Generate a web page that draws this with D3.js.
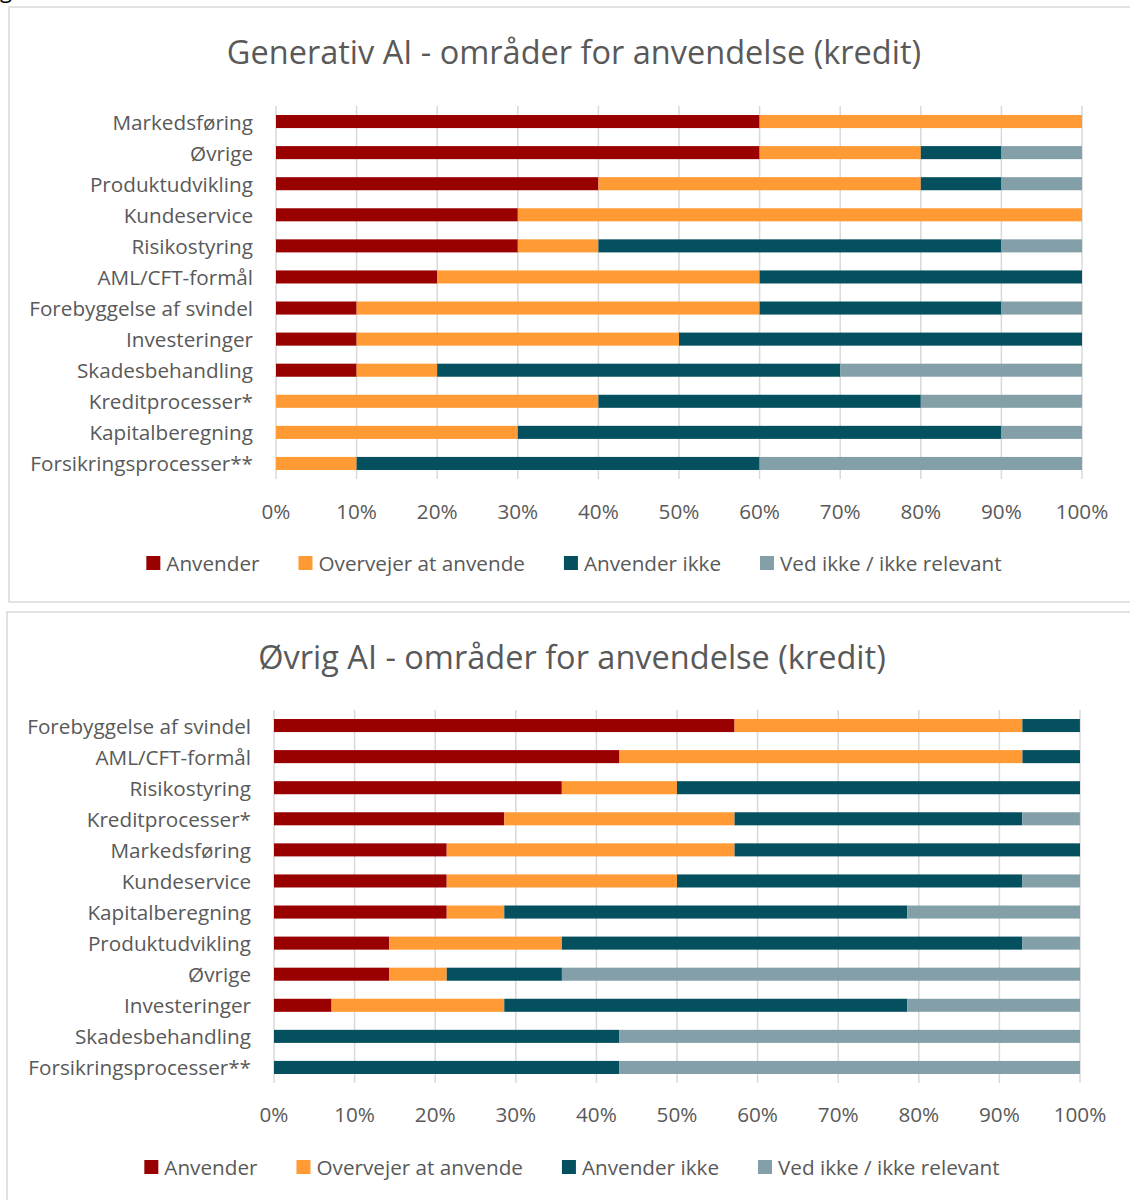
<!DOCTYPE html>
<html>
<head>
<meta charset="utf-8">
<script src="https://cdn.jsdelivr.net/npm/d3@7"></script>
<style>
  body { margin: 0; background: #fff; }
  text { font-family: "Open Sans", Lato, sans-serif; fill: #595959; }
</style>
</head>
<body>
<svg id="chart" width="1130" height="1200"></svg>
<script>
// serier og farver
const seriesNames = ["Anvender", "Overvejer at anvende", "Anvender ikke", "Ved ikke / ikke relevant"];
const seriesColors = ["#990000", "#FF9A35", "#04505E", "#83A0A9"];
const tickValues = [0, 10, 20, 30, 40, 50, 60, 70, 80, 90, 100];

// Generativ AI (procent)
const genCategories = ["Markedsføring", "Øvrige", "Produktudvikling", "Kundeservice", "Risikostyring",
  "AML/CFT-formål", "Forebyggelse af svindel", "Investeringer", "Skadesbehandling",
  "Kreditprocesser*", "Kapitalberegning", "Forsikringsprocesser**"];
const genAnvender    = [60, 60, 40, 30, 30, 20, 10, 10, 10, 0, 0, 0];
const genOvervejer   = [40, 20, 40, 70, 10, 40, 50, 40, 10, 40, 30, 10];
const genAnvenderIkke = [0, 10, 10, 0, 50, 40, 30, 50, 50, 40, 60, 50];
const genVedIkke     = [0, 10, 10, 0, 10, 0, 10, 0, 30, 20, 10, 40];

// Øvrig AI (procent)
const ovrCategories = ["Forebyggelse af svindel", "AML/CFT-formål", "Risikostyring", "Kreditprocesser*",
  "Markedsføring", "Kundeservice", "Kapitalberegning", "Produktudvikling", "Øvrige",
  "Investeringer", "Skadesbehandling", "Forsikringsprocesser**"];
const ovrAnvender    = [57.14, 42.86, 35.71, 28.57, 21.43, 21.43, 21.43, 14.29, 14.29, 7.14, 0, 0];
const ovrOvervejer   = [35.71, 50.00, 14.29, 28.57, 35.71, 28.57, 7.14, 21.43, 7.14, 21.43, 0, 0];
const ovrAnvenderIkke = [7.14, 7.14, 50.00, 35.71, 42.86, 42.86, 50.00, 57.14, 14.29, 50.00, 42.86, 42.86];
const ovrVedIkke     = [0, 0, 0, 7.14, 0, 7.14, 21.43, 7.14, 64.29, 21.43, 57.14, 57.14];

const svg = d3.select("#chart");

// rest af tekst fra siden ovenover
svg.append("text").attr("x", 0).attr("y", -2)
  .style("font-size", "22px").style("fill", "#000").text("g");

function drawChart(cfg) {
  const table = cfg.categories.map((c, i) => ({
    cat: c,
    [seriesNames[0]]: cfg.values[0][i],
    [seriesNames[1]]: cfg.values[1][i],
    [seriesNames[2]]: cfg.values[2][i],
    [seriesNames[3]]: cfg.values[3][i]
  }));
  const stacked = d3.stack().keys(seriesNames)(table);

  const x = d3.scaleLinear().domain([0, 100]).range([cfg.left, cfg.right]);
  const y = d3.scaleBand().domain(cfg.categories).range([cfg.top, cfg.bottom]).paddingInner(0.58).paddingOuter(0.29);

  const g = svg.append("g");

  // ramme
  g.append("rect")
    .attr("x", cfg.box[0]).attr("y", cfg.box[1])
    .attr("width", cfg.box[2]).attr("height", cfg.box[3])
    .attr("fill", "none").attr("stroke", "#D9D9D9").attr("stroke-width", 1.5);

  // titel
  g.append("text")
    .attr("x", cfg.center).attr("y", cfg.titleY)
    .attr("text-anchor", "middle").attr("dominant-baseline", "central")
    .style("font-size", "32.5px")
    .text(cfg.title);

  // gitterlinjer
  g.selectAll(".grid").data(tickValues).join("line")
    .attr("x1", d => x(d)).attr("x2", d => x(d))
    .attr("y1", cfg.top).attr("y2", cfg.bottom)
    .attr("stroke", "#D9D9D9").attr("stroke-width", 1.5);

  // søjler
  g.selectAll(".serie").data(stacked).join("g")
    .attr("fill", (d, i) => seriesColors[i])
    .selectAll("rect").data(d => d).join("rect")
    .attr("x", d => x(d[0]))
    .attr("width", d => x(d[1]) - x(d[0]))
    .attr("y", d => y(d.data.cat))
    .attr("height", y.bandwidth());

  // kategorier
  g.selectAll(".cat").data(cfg.categories).join("text")
    .attr("x", cfg.labelX).attr("y", d => y(d) + y.bandwidth() / 2)
    .attr("text-anchor", "end").attr("dominant-baseline", "central")
    .style("font-size", "20.7px")
    .text(d => d);

  // x-akse etiketter
  g.selectAll(".tick").data(tickValues).join("text")
    .attr("x", d => x(d)).attr("y", cfg.tickY)
    .attr("text-anchor", "middle").attr("dominant-baseline", "central")
    .style("font-size", "20.7px")
    .text(d => d + "%");

  // forklaring
  const leg = g.append("g");
  const items = leg.selectAll("g").data(seriesNames).join("g");
  items.append("rect")
    .attr("width", 14).attr("height", 14).attr("y", cfg.legendY - 7)
    .attr("fill", (d, i) => seriesColors[i]);
  items.append("text")
    .attr("x", 20).attr("y", cfg.legendY)
    .attr("dominant-baseline", "central")
    .style("font-size", "20.7px")
    .text(d => d);
  let pos = 0;
  const widths = [];
  items.each(function () { widths.push(d3.select(this).select("text").node().getComputedTextLength() + 20); });
  const total = d3.sum(widths) + 39 * (widths.length - 1);
  let start = cfg.center - total / 2;
  items.attr("transform", (d, i) => {
    const t = `translate(${start + pos},0)`;
    pos += widths[i] + 39;
    return t;
  });
}

drawChart({
  title: "Generativ AI - områder for anvendelse (kredit)",
  categories: genCategories,
  values: [genAnvender, genOvervejer, genAnvenderIkke, genVedIkke],
  box: [9, 7, 1135, 595],
  center: 574, titleY: 51,
  left: 276, right: 1082, top: 106, bottom: 479,
  labelX: 253, tickY: 511, legendY: 563
});

drawChart({
  title: "Øvrig AI - områder for anvendelse (kredit)",
  categories: ovrCategories,
  values: [ovrAnvender, ovrOvervejer, ovrAnvenderIkke, ovrVedIkke],
  box: [7, 612, 1135, 600],
  center: 572, titleY: 656,
  left: 274, right: 1080, top: 710, bottom: 1083,
  labelX: 251, tickY: 1114, legendY: 1167
});
</script>
</body>
</html>
